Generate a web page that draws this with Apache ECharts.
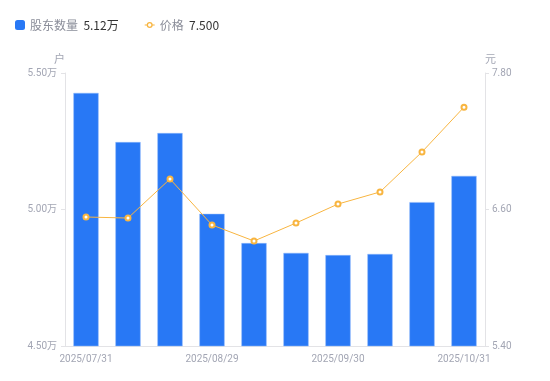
<!DOCTYPE html>
<html><head><meta charset="utf-8">
<script src="https://cdn.jsdelivr.net/npm/echarts@6/dist/echarts.min.js"></script>
<style>html,body{margin:0;padding:0;background:#fff}#c{width:550px;height:381px}</style>
</head><body><div id="c"></div>
<script>
var categories = ['2025/07/31','2025/08/08','2025/08/20','2025/08/29','2025/09/10','2025/09/19','2025/09/30','2025/10/10','2025/10/20','2025/10/31'];
var holders = [5.427, 5.247, 5.280, 4.984, 4.877, 4.841, 4.833, 4.837, 5.027, 5.123];
var prices = [6.534, 6.525, 6.868, 6.464, 6.323, 6.481, 6.648, 6.754, 7.106, 7.500];
var leftTicks = { min: 4.5, max: 5.5, interval: 0.5 };
var rightTicks = { min: 5.4, max: 7.8, interval: 1.2 };
var legendValues = { '股东数量': '5.12万', '价格': '7.500' };

var lineIcon = 'path://M0,0L0,0ZM10,10L10,10Z' +
  'M0,4.5H2.2V5.5H0ZM7.8,4.5H10V5.5H7.8Z' +
  'M5,2A3,3 0 1,1 5,8A3,3 0 1,1 5,2Z' +
  'M5,3.3A1.7,1.7 0 1,0 5,6.7A1.7,1.7 0 1,0 5,3.3Z';

var chart = echarts.init(document.getElementById('c'));
var axisLabelColor = '#a3a6b4';
chart.setOption({
  animation: false,
  textStyle: { fontFamily: 'Noto Sans CJK SC, Noto Sans, sans-serif' },
  legend: {
    left: 10, top: 14, itemGap: 26, itemWidth: 10, itemHeight: 10,
    data: [
      { name: '股东数量', icon: 'roundRect', itemStyle: { color: '#2878f5', borderWidth: 0 } },
      { name: '价格', icon: lineIcon, itemStyle: { color: '#f8b540', borderWidth: 0 } }
    ],
    formatter: function (n) { return '{a|' + n + '}  {b|' + legendValues[n] + '}'; },
    textStyle: {
      rich: {
        a: { color: '#8a8d99', fontSize: 12, fontFamily: 'Noto Sans CJK SC' },
        b: { color: '#333', fontSize: 12, fontFamily: 'Noto Sans CJK SC' }
      }
    }
  },
  grid: { left: 65, right: 65, top: 73, bottom: 35 },
  xAxis: {
    type: 'category', data: categories,
    axisLine: { lineStyle: { color: '#e3e3e6' } },
    axisTick: { show: false },
    axisLabel: {
      color: axisLabelColor, fontSize: 10, interval: 2, margin: 8,
      fontFamily: 'Roboto, sans-serif'
    }
  },
  yAxis: [{
    type: 'value', name: '户', min: leftTicks.min, max: leftTicks.max, interval: leftTicks.interval,
    nameTextStyle: { color: axisLabelColor, fontSize: 11, align: 'right', padding: [0, 0, 0, 0] },
    nameGap: 9,
    axisLine: { show: true, lineStyle: { color: '#e3e3e6' } },
    axisTick: { show: true, length: 4, lineStyle: { color: '#e3e3e6' } },
    splitLine: { show: false },
    axisLabel: { color: axisLabelColor, fontSize: 10, margin: 8, fontFamily: 'Roboto, Noto Sans CJK SC, sans-serif',
      formatter: function (v) { return v.toFixed(2) + '万'; } }
  }, {
    type: 'value', name: '元', min: rightTicks.min, max: rightTicks.max, interval: rightTicks.interval,
    nameTextStyle: { color: axisLabelColor, fontSize: 11, align: 'left' },
    nameGap: 9,
    axisLine: { show: true, lineStyle: { color: '#e3e3e6' } },
    axisTick: { show: true, length: 4, lineStyle: { color: '#e3e3e6' } },
    splitLine: { show: false },
    axisLabel: { color: axisLabelColor, fontSize: 10, margin: 7, fontFamily: 'Roboto, sans-serif',
      formatter: function (v) { return v.toFixed(2); } }
  }],
  series: [{
    name: '股东数量', type: 'bar', data: holders, barWidth: '60%',
    itemStyle: { color: '#2878f5', borderColor: '#8fb8fb', borderWidth: 0.5 }
  }, {
    name: '价格', type: 'line', yAxisIndex: 1, data: prices,
    symbol: 'emptyCircle', symbolSize: 5, showAllSymbol: true,
    lineStyle: { color: '#f8b540', width: 1 },
    itemStyle: { color: '#f8b540', borderWidth: 1.5 }
  }]
});
</script></body></html>
